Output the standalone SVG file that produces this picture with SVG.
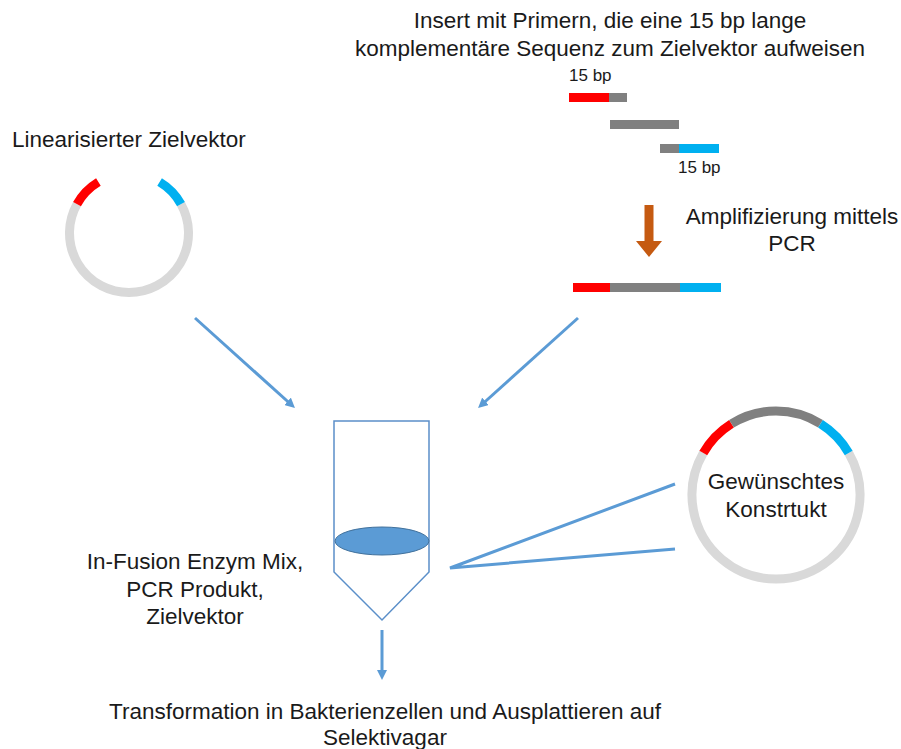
<svg xmlns="http://www.w3.org/2000/svg" width="901" height="749" viewBox="0 0 901 749">
  <defs>
    <style>
      text { font-family: "Liberation Sans", Arial, sans-serif; fill: #1a1a1a; }
      .lbl { font-size: 22.5px; }
      .sm { font-size: 17px; }
      .mid { text-anchor: middle; }
      .arc { fill: none; stroke-width: 9; stroke-linecap: butt; }
      .light { stroke: #D9D9D9; }
      .red { stroke: #FF0000; }
      .blue { stroke: #00B0F0; }
      .dark { stroke: #808080; }
      .conn { fill: none; stroke: #5B9BD5; stroke-width: 3; }
    </style>
    <marker id="head" viewBox="0 0 10 10" refX="4" refY="5" markerWidth="10" markerHeight="10" markerUnits="userSpaceOnUse" orient="auto">
      <path d="M0,0 L10,5 L0,10 z" fill="#5B9BD5"/>
    </marker>
  </defs>
  <rect width="901" height="749" fill="#FFFFFF"/>

  <!-- linearised target vector -->
  <g id="vector">
    <text class="lbl" x="12" y="147">Linearisierter Zielvektor</text>
    <path class="arc light" d="M77.0,204.1 A59.5,59.5 0 1 0 181.0,204.1"/>
    <path class="arc red" d="M77.0,204.1 A59.5,59.5 0 0 1 98.4,182.0"/>
    <path class="arc blue" d="M159.6,182.0 A59.5,59.5 0 0 1 181.0,204.1"/>
  </g>

  <!-- insert with primers -->
  <g id="insert">
    <text class="lbl mid" x="610" y="28">Insert mit Primern, die eine 15 bp lange</text>
    <text class="lbl mid" x="610" y="56">komplementäre Sequenz zum Zielvektor aufweisen</text>
    <text class="sm" x="569" y="81">15 bp</text>
    <rect x="569" y="93" width="40" height="9" fill="#FF0000"/>
    <rect x="609" y="93" width="18" height="9" fill="#808080"/>
    <rect x="610" y="120" width="69" height="9" fill="#808080"/>
    <rect x="660" y="144" width="19" height="9" fill="#808080"/>
    <rect x="679" y="144" width="40" height="9" fill="#00B0F0"/>
    <text class="sm" x="678" y="173">15 bp</text>
  </g>

  <!-- PCR amplification -->
  <g id="pcr">
    <polygon points="644.5,205 653.5,205 653.5,241 662,241 649,257 636,241 644.5,241" fill="#C55A11"/>
    <text class="lbl mid" x="792" y="224">Amplifizierung mittels</text>
    <text class="lbl mid" x="792" y="251">PCR</text>
  </g>

  <!-- PCR product -->
  <g id="product">
    <rect x="573" y="283" width="37" height="9" fill="#FF0000"/>
    <rect x="610" y="283" width="70" height="9" fill="#808080"/>
    <rect x="680" y="283" width="41" height="9" fill="#00B0F0"/>
  </g>

  <!-- reaction tube -->
  <g id="tube">
    <path d="M334,421 L429,421 L429,572 L382,620 L334,572 Z" fill="none" stroke="#5B8FC9" stroke-width="1.5"/>
    <ellipse cx="382" cy="541" rx="47" ry="14" fill="#5B9BD5" stroke="#41719C" stroke-width="1"/>
    <text class="lbl mid" x="195" y="569">In-Fusion Enzym Mix,</text>
    <text class="lbl mid" x="195" y="597">PCR Produkt,</text>
    <text class="lbl mid" x="195" y="624">Zielvektor</text>
  </g>

  <!-- resulting construct -->
  <g id="construct">
    <path class="arc light" d="M703.3,453 A84,84 0 1 0 848.7,453"/>
    <path class="arc red" d="M703.3,453 A84,84 0 0 1 731.5,423.8"/>
    <path class="arc dark" d="M731.5,423.8 A84,84 0 0 1 820.5,423.8"/>
    <path class="arc blue" d="M820.5,423.8 A84,84 0 0 1 848.7,453"/>
    <text class="lbl mid" x="776" y="489">Gewünschtes</text>
    <text class="lbl mid" x="776" y="517">Konstrtukt</text>
  </g>

  <!-- transformation step -->
  <g id="transformation">
    <text class="lbl mid" x="385" y="719">Transformation in Bakterienzellen und Ausplattieren auf</text>
    <text class="lbl mid" x="385" y="745">Selektivagar</text>
  </g>

  <g id="connectors">
    <line class="conn" x1="195" y1="318" x2="290.5" y2="404" marker-end="url(#head)"/>
    <line class="conn" x1="578" y1="318" x2="482.5" y2="404" marker-end="url(#head)"/>
    <line class="conn" x1="382" y1="630" x2="382" y2="674" marker-end="url(#head)"/>
    <polyline class="conn" points="675,484 450,568 675,549"/>
  </g>
</svg>
